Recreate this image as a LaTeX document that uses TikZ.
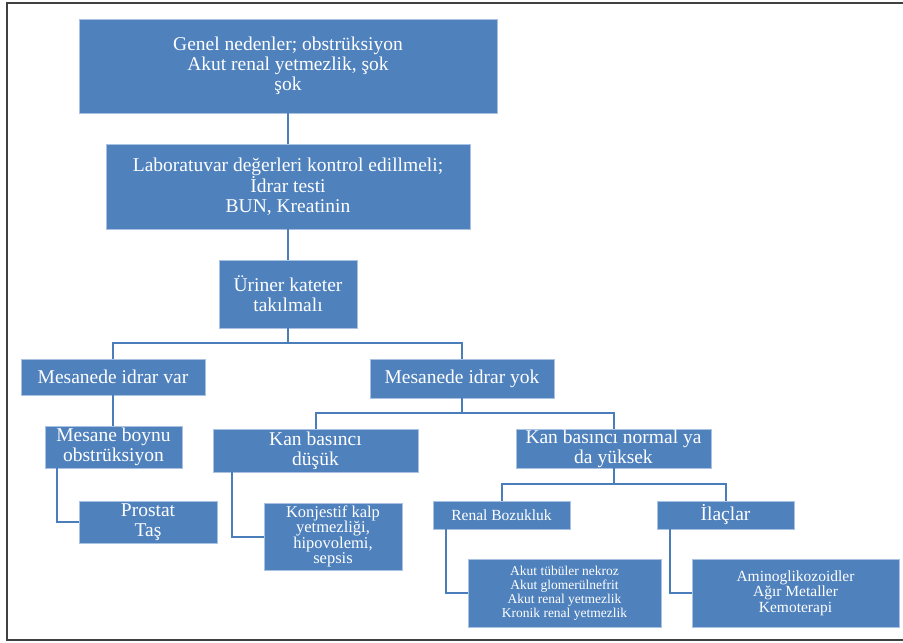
\documentclass[tikz,border=0pt]{standalone}
\usepackage{fontspec}
\setmainfont{Liberation Serif}
\usepackage{tikz}
\usetikzlibrary{calc}
\definecolor{kutumavi}{HTML}{4F81BD}
\definecolor{kutukenar}{HTML}{A9C2E4}
\definecolor{hatmavi}{HTML}{4A7EBB}
\definecolor{cerceve}{HTML}{404040}
\tikzset{
	blok/.style={fill=kutumavi, draw=kutukenar, line width=0.8pt, text=white, align=center, inner sep=0pt},
	buyuk/.style={font=\fontsize{19.5}{20}\selectfont},
	orta/.style={font=\fontsize{15.5}{15.5}\selectfont},
	kucuk/.style={font=\fontsize{13.5}{14}\selectfont},
	hat/.style={draw=hatmavi, line width=2pt}
}

\begin{document}
\begin{tikzpicture}[x=1pt, y=-1pt]
		%%%%% START %%%%%
		\useasboundingbox (0, 0) rectangle (903, 643);
		
		\draw[line width=1.5pt, color=cerceve] (903, 3) -| (7, 640) -- (903, 640);
		
		\node[blok, buyuk, minimum width=418pt, minimum height=94pt] (genel) at (288, 66) {Genel nedenler; obstrüksiyon\\Akut renal yetmezlik, şok\\şok};
		\node[blok, buyuk, minimum width=364pt, minimum height=85pt] (lab) at (288, 186.5) {Laboratuvar değerleri kontrol edillmeli;\\İdrar testi\\BUN, Kreatinin};
		\node[blok, buyuk, minimum width=138pt, minimum height=68pt] (kateter) at (288, 294) {Üriner kateter\\takılmalı};
		
		\node[blok, buyuk, minimum width=184pt, minimum height=36pt] (var) at (113, 377) {Mesanede idrar var};
		\node[blok, buyuk, minimum width=184pt, minimum height=39pt] (yok) at (462, 378.5) {Mesanede idrar yok};
		
		\node[blok, buyuk, minimum width=137pt, minimum height=42pt] (boynu) at (113.5, 447) {Mesane boynu\\obstrüksiyon};
		\node[blok, buyuk, minimum width=138pt, minimum height=42pt] (prostat) at (148, 522) {Prostat\\Taş};
		
		\node[blok, buyuk, minimum width=205pt, minimum height=43pt] (dusuk) at (315.5, 450.5) {Kan basıncı\\düşük};
		\node[blok, buyuk, minimum width=195pt, minimum height=39pt] (normal) at (613.5, 448.5) {Kan basıncı normal ya\\da yüksek};
		\node[blok, font=\fontsize{16.5}{15.5}\selectfont, minimum width=138pt, minimum height=67pt] (konjestif) at (333, 536.5) {Konjestif kalp\\yetmezliği,\\hipovolemi,\\sepsis};
		
		\node[blok, orta, minimum width=137pt, minimum height=28pt] (renal) at (501.5, 515) {Renal Bozukluk};
		\node[blok, buyuk, minimum width=137pt, minimum height=28pt] (ilac) at (725.5, 515) {İlaçlar};
		
		\node[blok, kucuk, minimum width=193pt, minimum height=68pt] (akut) at (564.5, 593) {Akut tübüler nekroz\\Akut glomerülnefrit\\Akut renal yetmezlik\\Kronik renal yetmezlik};
		\node[blok, orta, minimum width=207pt, minimum height=68pt] (amino) at (795.5, 593) {Aminoglikozoidler\\Ağır Metaller\\Kemoterapi};
		
		\coordinate (dal1) at (288, 343);
		\coordinate (dal2) at (462, 413);
		\coordinate (dal3) at (613.5, 484);
		
		\draw[hat] (genel) -- (lab);
		\draw[hat] (lab) -- (kateter);
		\draw[hat] (kateter) -- (dal1);
		\draw[hat] (var.north) |- (dal1) -| (yok.north);
		
		\draw[hat] (var.south) -- (var.south |- boynu.north);
		\draw[hat] ([xshift=12pt]boynu.south west) |- (prostat.west);
		
		\draw[hat] (yok) -- (dal2);
		\draw[hat] (dusuk.north) |- (dal2) -| (normal.north);
		\draw[hat] ([xshift=19pt]dusuk.south west) |- (konjestif.west);
		
		\draw[hat] (normal) -- (dal3);
		\draw[hat] (renal.north) |- (dal3) -| (ilac.north);
		\draw[hat] ([xshift=13pt]renal.south west) |- (akut.west);
		\draw[hat] ([xshift=13pt]ilac.south west) |- (amino.west);
		
		%%%%% END %%%%%
	\end{tikzpicture}
\end{document}
